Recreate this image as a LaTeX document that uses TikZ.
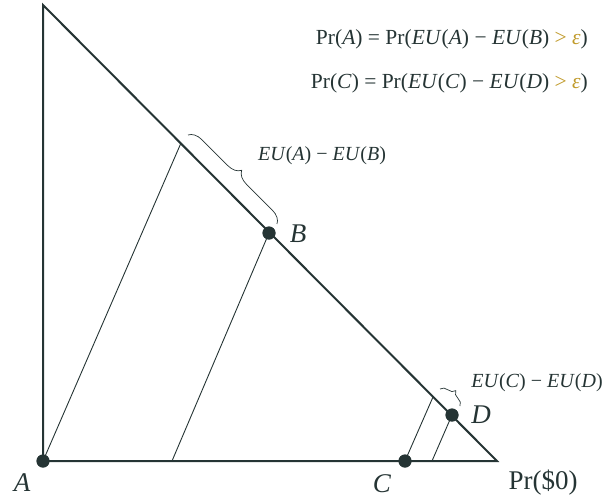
\documentclass[tikz,border=0pt]{standalone}
\usepackage{fontspec}
\setmainfont{Liberation Serif}
\usetikzlibrary{decorations.pathreplacing}
\definecolor{ink}{HTML}{253434}
\definecolor{gold}{HTML}{C09A2A}
\tikzset{
  frame/.style={draw=ink, line width=2pt},
  thin line/.style={draw=ink, line width=0.9pt},
  dot/.style={circle, fill=ink, inner sep=0pt, minimum size=13pt},
  ptlabel/.style={text=ink, font=\fontsize{27}{30}\selectfont\itshape, inner sep=0pt},
  eq/.style={text=ink, font=\fontsize{21.5}{24}\selectfont, inner sep=0pt},
  blabel/.style={text=ink, font=\fontsize{20}{22}\selectfont, inner sep=0pt},
  brace line/.style={draw=ink, line width=0.7pt, decorate},
}
\newcommand{\gt}{\textcolor{gold}{> \textit{ε}}}
\begin{document}
\begin{tikzpicture}[x=1pt,y=-1pt]
\useasboundingbox (0,0) rectangle (606,499);
% frame corners
\coordinate (T) at (43,5);
\coordinate (R) at (497,461);
\coordinate (P1) at (181,143);
\coordinate (Q1) at (172,461);
\coordinate (P2) at (433,397);
\coordinate (Q2) at (432,461);
% inner parallel lines
\node[dot] (A) at (43,461) {};
\node[dot] (B) at (269,233) {};
\node[dot] (C) at (405,461) {};
\node[dot] (D) at (452,415) {};
\draw[thin line] (A.center) -- (P1);
\draw[thin line] (B.center) -- (Q1);
\draw[thin line] (C.center) -- (P2);
\draw[thin line] (D.center) -- (Q2);
% triangle
\draw[frame] (T) -- (A.center) -- (R) -- cycle;
\node[dot] at (A) {};
\node[dot] at (B) {};
\node[dot] at (C) {};
\node[dot] at (D) {};
% braces
\coordinate (b1s) at (188,135);
\coordinate (b1e) at (277,224);
\draw[brace line, decoration={brace, amplitude=13pt}] (b1s) -- (b1e);
\coordinate (b2s) at (440,389);
\coordinate (b2e) at (460,406);
\draw[brace line, decoration={brace, amplitude=9pt}] (b2s) -- (b2e);
% labels
\node[ptlabel] (lA) at (22,483) {A};
\node[ptlabel] (lB) at (298,234) {B};
\node[ptlabel] (lC) at (382,484) {C};
\node[ptlabel] (lD) at (481,415) {D};
\node[text=ink, font=\fontsize{27}{30}\selectfont, inner sep=0pt] (lPr) at (543,483) {Pr(\$0)};
\node[blabel] (lb1) at (322,156) {\textit{EU}(\textit{A}) − \textit{EU}(\textit{B})};
\node[blabel] (lb2) at (537,383) {\textit{EU}(\textit{C}) − \textit{EU}(\textit{D})};
\node[eq, anchor=east] (eq1) at (588,39) {Pr(\textit{A}) = Pr(\textit{EU}(\textit{A}) − \textit{EU}(\textit{B}) \gt)};
\node[eq, anchor=east] (eq2) at (588,83) {Pr(\textit{C}) = Pr(\textit{EU}(\textit{C}) − \textit{EU}(\textit{D}) \gt)};
\end{tikzpicture}
\end{document}
